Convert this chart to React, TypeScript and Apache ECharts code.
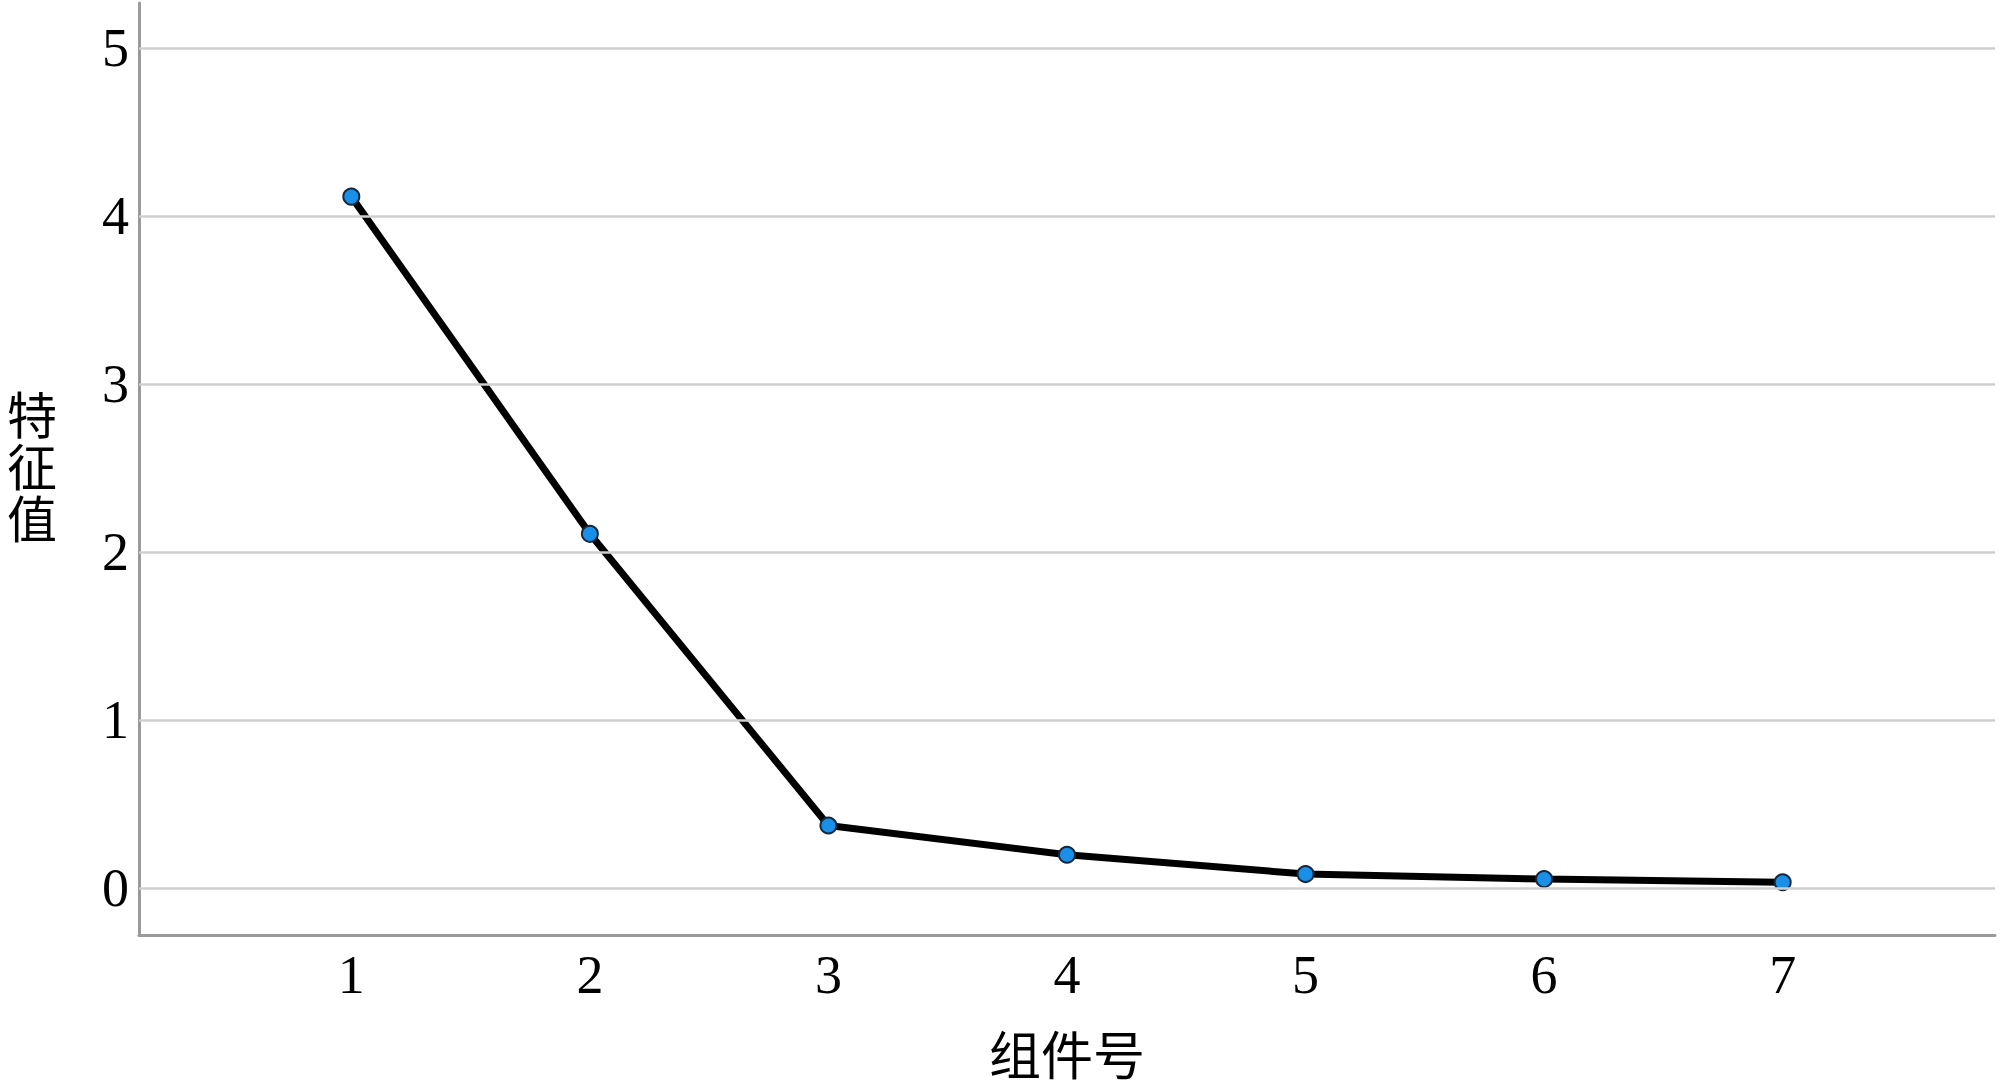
import { useEffect, useRef } from 'react';
import * as echarts from 'echarts';

const components = [1, 2, 3, 4, 5, 6, 7];
const eigenvalues = [4.117, 2.109, 0.372, 0.198, 0.083, 0.053, 0.034];
const xTickValues = [1, 2, 3, 4, 5, 6, 7];
const yTickValues = [0, 1, 2, 3, 4, 5];
const xAxisName = '组件号';
const yAxisName = '特\n征\n值';

const FONT = '"Liberation Serif", "Times New Roman", "Noto Sans CJK SC", serif';

export default function App() {
  const ref = useRef<HTMLDivElement>(null);
  useEffect(() => {
    document.body.style.margin = '0';
    const chart = echarts.init(ref.current!, null, { renderer: 'svg' });
    const intFmt = (v: number) => (Math.abs(v - Math.round(v)) < 1e-6 ? String(Math.round(v)) : '');
    chart.setOption({
      animation: false,
      backgroundColor: '#ffffff',
      grid: { left: 139, right: 5, top: 3, bottom: 151, containLabel: false },
      xAxis: {
        type: 'value',
        min: 0.11,
        max: 7.89,
        name: xAxisName,
        nameLocation: 'middle',
        nameGap: 96,
        nameTextStyle: { fontSize: 52, color: '#000', fontFamily: FONT },
        axisLine: { show: true, onZero: false, lineStyle: { color: '#9a9a9a', width: 3 } },
        axisTick: { show: false },
        splitLine: { show: false },
        axisLabel: {
          customValues: xTickValues,
          formatter: intFmt,
          fontSize: 54,
          color: '#000',
          fontFamily: FONT,
          margin: 13,
        },
      },
      yAxis: {
        type: 'value',
        min: -0.28,
        max: 5.27,
        name: yAxisName,
        nameLocation: 'middle',
        nameRotate: 0,
        nameGap: 82,
        nameTextStyle: { fontSize: 50, lineHeight: 52, color: '#000', fontFamily: FONT },
        axisLine: { show: true, onZero: false, lineStyle: { color: '#9a9a9a', width: 3 } },
        axisTick: { show: false },
        splitLine: { show: false },
        axisLabel: {
          customValues: yTickValues,
          formatter: intFmt,
          fontSize: 54,
          color: '#000',
          fontFamily: FONT,
          margin: 10,
          padding: [18, 0, 0, 0],
        },
      },
      series: [
        {
          type: 'line',
          z: 1,
          data: [],
          silent: true,
          markLine: {
            silent: true,
            symbol: ['none', 'none'],
            label: { show: false },
            lineStyle: { color: '#cfcfcf', width: 2.5, type: 'solid' },
            data: yTickValues.map((v) => ({ yAxis: v })),
          },
        },
        {
          type: 'line',
          z: 3,
          data: components.map((c, i) => [c, eigenvalues[i]]),
          lineStyle: { color: '#000', width: 7 },
          symbol: 'circle',
          symbolSize: 16,
          itemStyle: { color: '#1a8fe8', borderColor: '#14283c', borderWidth: 2 },
        },
      ],
    });
    return () => chart.dispose();
  }, []);
  return <div ref={ref} style={{ position: 'absolute', left: 0, top: 0, width: 2000, height: 1088 }} />;
}
